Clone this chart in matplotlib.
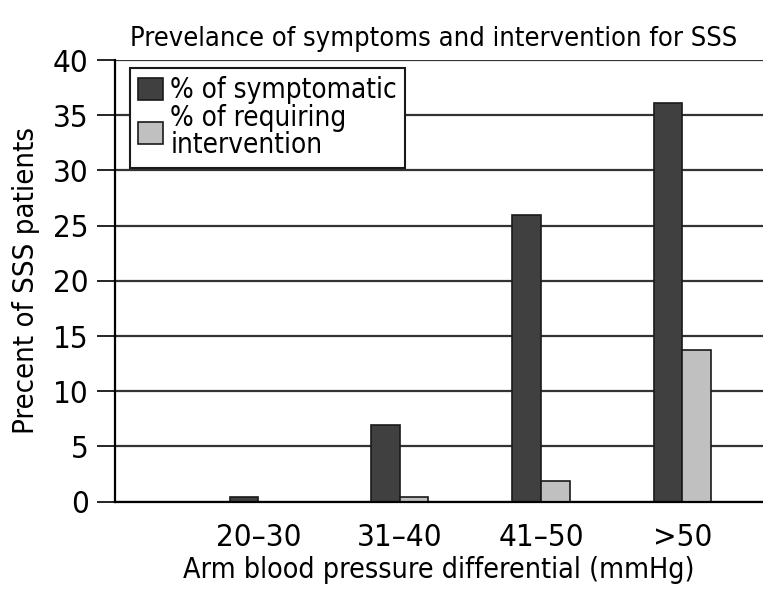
import numpy as np
import matplotlib.pyplot as plt
from matplotlib import font_manager as fm

# the reference uses a condensed sans; take one if any is installed
narrow = None
for f in fm.fontManager.ttflist:
    nm = f.name.lower() + ' ' + f.fname.lower()
    if ('narrow' in nm or 'condensed' in nm) and f.style == 'normal' \
            and f.weight in (400, 'normal', 'regular') and 'mono' not in nm \
            and 'serif' not in f.name.lower():
        narrow = f
        break
if narrow is not None:
    plt.rcParams['font.family'] = [narrow.name, 'DejaVu Sans']
    plt.rcParams['font.stretch'] = narrow.stretch
    scale = 1.0
else:
    plt.rcParams['font.family'] = ['DejaVu Sans']
    scale = 0.8

# Data
categories = ['20\u201330', '31\u201340', '41\u201350', '>50']
symptomatic = [0.4, 6.9, 26.0, 36.1]
intervention = [0.0, 0.4, 1.9, 13.7]

x = np.arange(len(categories))
width = 0.2025

fig = plt.figure(figsize=(7.63, 5.93), dpi=100)
ax = fig.add_axes([0.1507, 0.154, 0.8493, 0.7448])

ax.set_axisbelow(True)
ax.yaxis.grid(True, color='#333333', linewidth=1.6)
ax.bar(x - width / 2, symptomatic, width, color='#404040', edgecolor='#1a1a1a',
       linewidth=1.2, label='% of symptomatic')
ax.bar(x + width / 2, intervention, width, color='#c0c0c0', edgecolor='#1a1a1a',
       linewidth=1.2, label='% of requiring\nintervention')

ax.set_xlim(-1.014, 3.57)
ax.set_ylim(0, 40)
ax.set_yticks(range(0, 41, 5))
ax.set_xticks(x)
ax.set_xticklabels(categories, fontsize=22.5 * scale)
ax.tick_params(axis='x', length=0, pad=15)
ax.tick_params(axis='y', labelsize=22.5 * scale, length=13, width=1.2,
               direction='out', pad=6)

for side in ['top', 'right']:
    ax.spines[side].set_visible(False)
ax.spines['left'].set_linewidth(1.6)
ax.spines['bottom'].set_linewidth(1.6)

ax.set_xlabel('Arm blood pressure differential (mmHg)', fontsize=20.5 * scale, labelpad=3)
ax.set_ylabel('Precent of SSS patients', fontsize=21 * scale, labelpad=9)
ax.set_title('Prevelance of symptoms and intervention for SSS', fontsize=19.5 * scale,
             pad=10, x=0.492)

leg = ax.legend(loc='upper left', bbox_to_anchor=(0.023, 0.982), fontsize=20 * scale,
                frameon=True, fancybox=False, borderpad=0.3, labelspacing=0.0,
                handlelength=0.9, handleheight=0.85, handletextpad=0.25,
                borderaxespad=0)
leg.get_frame().set_edgecolor('#1a1a1a')
leg.get_frame().set_linewidth(1.5)
leg.get_frame().set_alpha(1)
for t in leg.get_texts():
    t.set_linespacing(0.95)

plt.savefig('out.png', dpi=100)
